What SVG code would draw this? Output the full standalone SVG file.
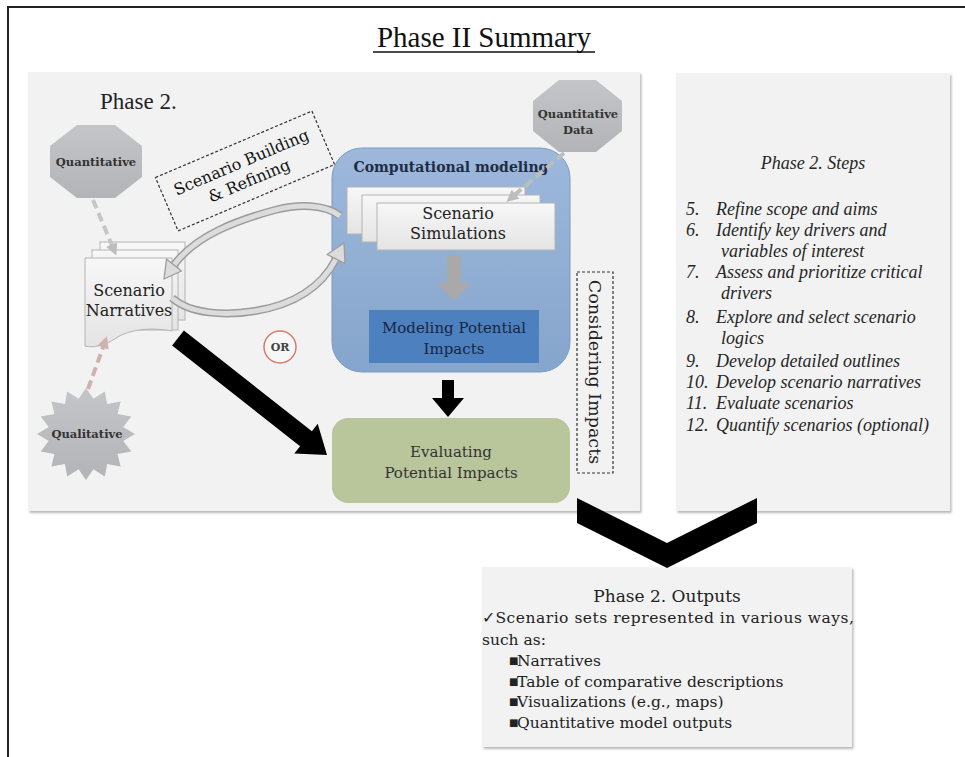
<svg xmlns="http://www.w3.org/2000/svg" width="965" height="757" viewBox="0 0 965 757">
  <defs>
    <filter id="sh" x="-5%" y="-5%" width="110%" height="110%">
      <feDropShadow dx="1.5" dy="2" stdDeviation="1.2" flood-color="#8a8a8a" flood-opacity="0.6"/>
    </filter>
    <linearGradient id="blueG" x1="0" y1="0" x2="0" y2="1">
      <stop offset="0" stop-color="#9db8db"/>
      <stop offset="1" stop-color="#86a5cc"/>
    </linearGradient>
    <linearGradient id="pageG" x1="0" y1="0" x2="0" y2="1">
      <stop offset="0" stop-color="#f7f7f7"/>
      <stop offset="1" stop-color="#e4e4e4"/>
    </linearGradient>
    <linearGradient id="octG" x1="0" y1="0" x2="0" y2="1">
      <stop offset="0" stop-color="#c4c5c8"/>
      <stop offset="1" stop-color="#b3b4b7"/>
    </linearGradient>
    <marker id="mGray" viewBox="0 0 10 10" refX="5" refY="5" markerWidth="3" markerHeight="3" orient="auto">
      <path d="M0,0 L10,5 L0,10 Z" fill="#bdbdbd"/>
    </marker>
    <marker id="mPink" viewBox="0 0 10 10" refX="5" refY="5" markerWidth="3" markerHeight="3" orient="auto">
      <path d="M0,0 L10,5 L0,10 Z" fill="#cfb2b0"/>
    </marker>
  </defs>
  <style>
    .panel { fill:#f2f2f2; filter:url(#sh); }
    .serif { font-family:'DejaVu Serif','Liberation Serif',serif; }
    .times { font-family:'Liberation Serif','Times New Roman',serif; }
    .oct { fill:url(#octG); }
    .octTxt { font-family:'DejaVu Serif','Liberation Serif',serif; font-weight:bold; font-size:11.5px; fill:#333; text-anchor:middle; }
    .page { fill:url(#pageG); stroke:#b4b4b4; stroke-width:1; }
    .dashbox { fill:none; stroke:#333; stroke-width:1.2; stroke-dasharray:3 2; }
    .ribOut { fill:none; stroke:#9c9c9c; stroke-width:8; stroke-linecap:butt; }
    .ribIn { fill:none; stroke:#dcdcdc; stroke-width:5; stroke-linecap:butt; }
    .ribHead { fill:#dcdcdc; stroke:#9c9c9c; stroke-width:1.3; stroke-linejoin:round; }
    .steps { font-family:'Liberation Serif','Times New Roman',serif; font-style:italic; font-size:18px; fill:#262626; }
    .out { font-family:'DejaVu Serif','Liberation Serif',serif; font-size:15.5px; fill:#222; }
    .bul { font-size:10px; }
  </style>

  <rect width="965" height="757" fill="#ffffff"/>

  <!-- frame around the summary -->
  <path d="M8,757 V7 H965" fill="none" stroke="#222" stroke-width="2"/>

  <!-- title -->
  <g id="title">
    <text x="484" y="47" class="times" font-size="29" text-anchor="middle" fill="#111">Phase II Summary</text>
    <line x1="373" y1="52" x2="595" y2="52" stroke="#111" stroke-width="1.5"/>
  </g>

  <!-- panels -->
  <rect id="phase2-panel" class="panel" x="28" y="72" width="612" height="439"/>
  <rect id="steps-panel" class="panel" x="676" y="73" width="274" height="438"/>
  <rect id="outputs-panel" class="panel" x="482" y="567" width="370" height="180"/>

  <text x="100" y="109" class="times" font-size="23" fill="#222">Phase 2.</text>

  <!-- computational modeling block -->
  <g id="computational-modeling">
    <rect x="332" y="148" width="238" height="224" rx="30" fill="url(#blueG)" stroke="#7d9bc3" stroke-width="1"/>
    <text x="451" y="172" class="serif" font-size="14" font-weight="bold" fill="#1e2c44" text-anchor="middle">Computational modeling</text>
  </g>

  <g id="scenario-simulations">
    <rect class="page" x="347" y="187" width="178" height="47"/>
    <rect class="page" x="362" y="195" width="178" height="47"/>
    <rect class="page" x="377" y="203" width="178" height="47"/>
    <text x="458" y="219" class="serif" font-size="16" fill="#222" text-anchor="middle">Scenario</text>
    <text x="458" y="239" class="serif" font-size="16" fill="#222" text-anchor="middle">Simulations</text>
  </g>

  <g id="modeling-impacts">
    <rect x="369" y="310" width="170" height="53" fill="#4d80bf"/>
    <text x="454" y="333" class="serif" font-size="15" fill="#17263f" text-anchor="middle">Modeling Potential</text>
    <text x="454" y="354" class="serif" font-size="15" fill="#17263f" text-anchor="middle">Impacts</text>
  </g>

  <g id="evaluating-impacts">
    <rect x="332" y="418" width="238" height="85" rx="16" fill="#b9c59b"/>
    <text x="451" y="457" class="serif" font-size="15" fill="#333" text-anchor="middle">Evaluating</text>
    <text x="451" y="478" class="serif" font-size="15" fill="#333" text-anchor="middle">Potential Impacts</text>
  </g>

  <!-- data sources -->
  <g id="quantitative">
    <polygon class="oct" points="77,125 115,125 142,146 142,177 115,198 77,198 50,177 50,146"/>
    <text x="96" y="166" class="octTxt">Quantitative</text>
  </g>

  <g id="quantitative-data">
    <polygon class="oct" points="559,80 596,80 622,101 622,131 596,152 559,152 533,131 533,101"/>
    <text x="578" y="118" class="octTxt">Quantitative</text>
    <text x="578" y="134" class="octTxt">Data</text>
  </g>

  <g id="qualitative">
    <polygon class="oct" points="135,434 123.3,441 131.3,451.6 117.6,454 120.6,466.5 107.1,463.9 104.8,476.5 93.4,469.3 86,480 78.6,469.3 67.2,476.5 64.9,463.9 51.4,466.5 54.4,454 40.7,451.6 48.7,441 37,434 48.7,427 40.7,416.4 54.4,414 51.4,401.5 64.9,404.1 67.2,391.5 78.6,398.7 86,388 93.4,398.7 104.8,391.5 107.1,404.1 120.6,401.5 117.6,414 131.3,416.4 123.3,427"/>
    <text x="87" y="438" class="octTxt">Qualitative</text>
  </g>

  <g id="scenario-narratives">
    <rect class="page" x="100" y="242" width="85" height="78"/>
    <rect class="page" x="92" y="250" width="86" height="80"/>
    <path class="page" d="M85,258 H172 V331 C152,327 130,329 116,338 C104,346 94,348 85,346 Z"/>
    <text x="129" y="296" class="serif" font-size="16" fill="#222" text-anchor="middle">Scenario</text>
    <text x="129" y="316" class="serif" font-size="16" fill="#222" text-anchor="middle">Narratives</text>
  </g>

  <g id="scenario-building">
    <g transform="translate(245,171) rotate(-23)">
      <rect class="dashbox" x="-85" y="-29" width="170" height="58" fill="#f7f7f7"/>
      <text x="0" y="-4" class="serif" font-size="16" fill="#111" text-anchor="middle">Scenario Building</text>
      <text x="0" y="16" class="serif" font-size="16" fill="#111" text-anchor="middle">&amp; Refining</text>
    </g>
  </g>

  <g id="considering-impacts">
    <rect class="dashbox" x="577" y="272" width="36" height="201"/>
    <text transform="translate(595,372) rotate(90)" x="0" y="0" class="serif" font-size="17.5" fill="#222" text-anchor="middle" dominant-baseline="central">Considering Impacts</text>
  </g>

  <g id="or">
    <circle cx="280" cy="347" r="16" fill="#f7f7f7" stroke="#d77c6e" stroke-width="1.5"/>
    <text x="280" y="351" class="serif" font-size="11" font-weight="bold" fill="#444" text-anchor="middle">OR</text>
  </g>

  <!-- connectors -->
  <g id="connectors">
    <!-- dashed input links -->
    <line x1="93" y1="200" x2="114" y2="250" stroke="#c6c6c6" stroke-width="4" stroke-dasharray="9 5" marker-end="url(#mGray)"/>
    <line x1="88" y1="389" x2="105" y2="342" stroke="#cfb2b0" stroke-width="4" stroke-dasharray="9 5" marker-end="url(#mPink)"/>
    <line x1="564" y1="153" x2="511" y2="198" stroke="#bdbdbd" stroke-width="4" stroke-dasharray="9 5" marker-end="url(#mGray)"/>

    <!-- building and refining loop -->
    <path class="ribOut" d="M340,216 C325,204 298,204 275,210 C238,220 196,235 174,265"/>
    <path class="ribIn" d="M340,216 C325,204 298,204 275,210 C238,220 196,235 174,265"/>
    <polygon class="ribHead" points="181.5,271 164,279 166.5,259"/>
    <path class="ribOut" d="M172,298 C190,314 225,316 255,311 C292,305 321,288 336,259"/>
    <path class="ribIn" d="M172,298 C190,314 225,316 255,311 C292,305 321,288 336,259"/>
    <polygon class="ribHead" points="345,263.5 344,243 327,254.5"/>

    <!-- simulations to modeling impacts -->
    <polygon points="447,255 461,255 461,283 471,283 454,301 437,283 447,283" fill="#a9a9a9"/>

    <!-- modeling impacts to evaluating impacts -->
    <polygon points="442,380 454,380 454,398 464,398 448,417 432,398 442,398" fill="#000"/>

    <!-- narratives straight to evaluating impacts -->
    <polygon points="183.9,330.5 311.9,431.2 317.7,423.8 327,455 294.3,453.6 300.1,446.2 172.1,345.5" fill="#000"/>

    <!-- merge chevron into outputs -->
    <polygon points="577,498 667,543 757,498 757,523 667,568 577,523" fill="#000"/>
  </g>

  <!-- steps list -->
  <g id="phase2-steps">
    <text x="813" y="169" class="steps" font-size="20" text-anchor="middle">Phase 2. Steps</text>
    <text class="steps">
      <tspan x="686" y="215">5.</tspan><tspan x="716" y="215">Refine scope and aims</tspan>
      <tspan x="686" y="236">6.</tspan><tspan x="716" y="236">Identify key drivers and</tspan>
      <tspan x="721" y="257">variables of interest</tspan>
      <tspan x="686" y="278">7.</tspan><tspan x="716" y="278">Assess and prioritize critical</tspan>
      <tspan x="721" y="299">drivers</tspan>
      <tspan x="686" y="323">8.</tspan><tspan x="716" y="323">Explore and select scenario</tspan>
      <tspan x="721" y="344">logics</tspan>
      <tspan x="686" y="367">9.</tspan><tspan x="716" y="367">Develop detailed outlines</tspan>
      <tspan x="686" y="388">10.</tspan><tspan x="716" y="388">Develop scenario narratives</tspan>
      <tspan x="686" y="409">11.</tspan><tspan x="716" y="409">Evaluate scenarios</tspan>
      <tspan x="686" y="431">12.</tspan><tspan x="716" y="431">Quantify scenarios (optional)</tspan>
    </text>
  </g>

  <!-- outputs -->
  <g id="phase2-outputs">
    <text x="667" y="602" class="serif" font-size="17" fill="#222" text-anchor="middle">Phase 2. Outputs</text>
    <text class="out">
      <tspan x="482" y="623" textLength="372" lengthAdjust="spacing">✓Scenario sets represented in various ways,</tspan>
      <tspan x="482" y="645">such as:</tspan>
      <tspan x="509" y="664" class="bul">■</tspan><tspan x="517" y="666">Narratives</tspan>
      <tspan x="509" y="685" class="bul">■</tspan><tspan x="517" y="687">Table of comparative descriptions</tspan>
      <tspan x="509" y="705" class="bul">■</tspan><tspan x="517" y="707">Visualizations (e.g., maps)</tspan>
      <tspan x="509" y="726" class="bul">■</tspan><tspan x="517" y="728">Quantitative model outputs</tspan>
    </text>
  </g>
</svg>
